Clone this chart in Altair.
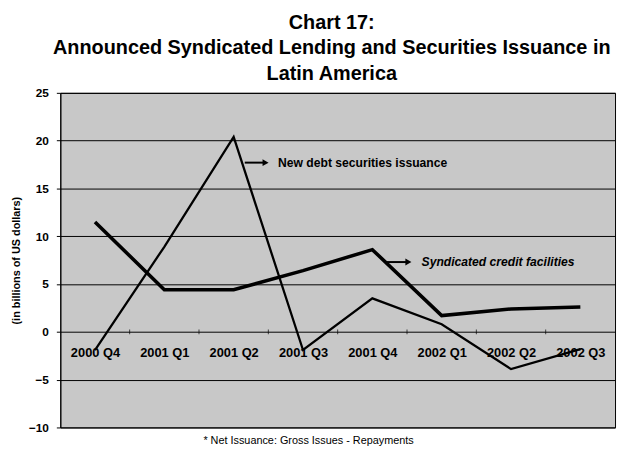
import altair as alt
import pandas as pd

quarters = ["2000 Q4", "2001 Q1", "2001 Q2", "2001 Q3", "2001 Q4", "2002 Q1", "2002 Q2", "2002 Q3"]
syndicated = [11.5, 4.4, 4.4, 6.4, 8.6, 1.7, 2.4, 2.6]
new_debt = [-1.9, 8.9, 20.4, -1.9, 3.5, 0.8, -3.9, -1.8]
series_names = ["Syndicated credit facilities", "New debt securities issuance"]
y_ticks = [-10, -5, 0, 5, 10, 15, 20, 25]

title_lines = ["Chart 17:", "Announced Syndicated Lending and Securities Issuance in", "Latin America"]
y_title = "(in billions of US dollars)"
footnote = "* Net Issuance: Gross Issues - Repayments"

# annotation (label, y level, arrow start/end and text start in category-index units)
ann_labels = ["New debt securities issuance", "Syndicated credit facilities"]
ann_y = [17.7, 7.3]
ann_x1 = [2.16, 4.21]
ann_x2 = [2.46, 4.52]
ann_text_x = [2.64, 4.71]

FONT = "Liberation Sans, Arial, Helvetica, sans-serif"

rows = []
for i, q in enumerate(quarters):
    rows.append({"i": i, "q": q, "series": series_names[0], "value": syndicated[i]})
    rows.append({"i": i, "q": q, "series": series_names[1], "value": new_debt[i]})
df = pd.DataFrame(rows)

label_expr = "[" + ",".join("'" + q + "'" for q in quarters) + "][datum.value]"

x_scale = alt.Scale(domain=[-0.5, len(quarters) - 0.5], nice=False, zero=False)
y_scale = alt.Scale(domain=[-10, 25], nice=False)

lines = alt.Chart(df).mark_line(color="black", strokeJoin="miter").encode(
    x=alt.X("i:Q", scale=x_scale,
            axis=alt.Axis(values=list(range(len(quarters))), labelExpr=label_expr,
                          orient="bottom", offset=-96, domain=False, ticks=False, grid=False,
                          labelFont=FONT, labelFontSize=13, labelFontWeight="bold",
                          labelColor="black", labelPadding=14,
                          title=footnote, titleFont=FONT, titleFontSize=11,
                          titleFontWeight="normal", titleColor="black",
                          titleX=251, titleY=109, titleBaseline="middle")),
    y=alt.Y("value:Q", scale=y_scale,
            axis=alt.Axis(values=y_ticks, grid=True, gridColor="black", gridOpacity=1,
                          gridWidth=1, domain=True, domainColor="black", ticks=True,
                          tickColor="black", tickSize=4, labelFont=FONT, labelFontSize=12,
                          labelFontWeight="bold", labelColor="black", labelPadding=8,
                          title=y_title, titleFont=FONT, titleFontSize=11,
                          titleFontWeight="bold", titleColor="black",
                          titleX=-44, titleY=169.5, titleBaseline="middle")),
    detail="series:N",
    strokeWidth=alt.StrokeWidth("series:N", scale=alt.Scale(domain=series_names, range=[3.6, 2.3]),
                                legend=None),
)

bounds = pd.DataFrame({"b": [k + 0.5 for k in range(len(quarters) - 1)], "z": [0] * (len(quarters) - 1)})
ticks = alt.Chart(bounds).mark_tick(color="black", thickness=1, size=5).encode(
    x=alt.X("b:Q", scale=x_scale), y=alt.Y("z:Q", scale=y_scale)
)

ann = pd.DataFrame({"label": ann_labels, "y": ann_y, "x1": ann_x1, "x2": ann_x2, "tx": ann_text_x})

arrows = alt.Chart(ann).mark_rule(color="black", strokeWidth=2).encode(
    x=alt.X("x1:Q", scale=x_scale), x2="x2:Q", y=alt.Y("y:Q", scale=y_scale)
)
heads = alt.Chart(ann).mark_point(shape="triangle-right", filled=True, color="black",
                                  size=50, opacity=1).encode(
    x=alt.X("x2:Q", scale=x_scale), y=alt.Y("y:Q", scale=y_scale)
)
text1 = alt.Chart(ann.iloc[[0]]).mark_text(align="left", baseline="middle", font=FONT,
                                           fontSize=12.3, fontWeight="bold", color="black").encode(
    x=alt.X("tx:Q", scale=x_scale), y=alt.Y("y:Q", scale=y_scale), text="label:N"
)
text2 = alt.Chart(ann.iloc[[1]]).mark_text(align="left", baseline="middle", font=FONT,
                                           fontSize=12.3, fontStyle="italic", fontWeight="bold",
                                           color="black").encode(
    x=alt.X("tx:Q", scale=x_scale), y=alt.Y("y:Q", scale=y_scale), text="label:N"
)

chart = alt.layer(lines, ticks, arrows, heads, text1, text2).properties(
    width=562, height=339,
    autosize=alt.AutoSizeParams(type="none"),
    padding={"left": 53, "top": 83, "right": 2, "bottom": 28},
    background="white",
    title=alt.TitleParams(text=title_lines, font=FONT, fontSize=20.1, fontWeight="bold",
                          color="black", lineHeight=26, anchor="middle", dx=-6, offset=3),
).configure_view(fill="#c8c8c8", stroke="black", strokeWidth=1)

chart.save("out.html", embed_options={"renderer": "svg", "actions": False})
